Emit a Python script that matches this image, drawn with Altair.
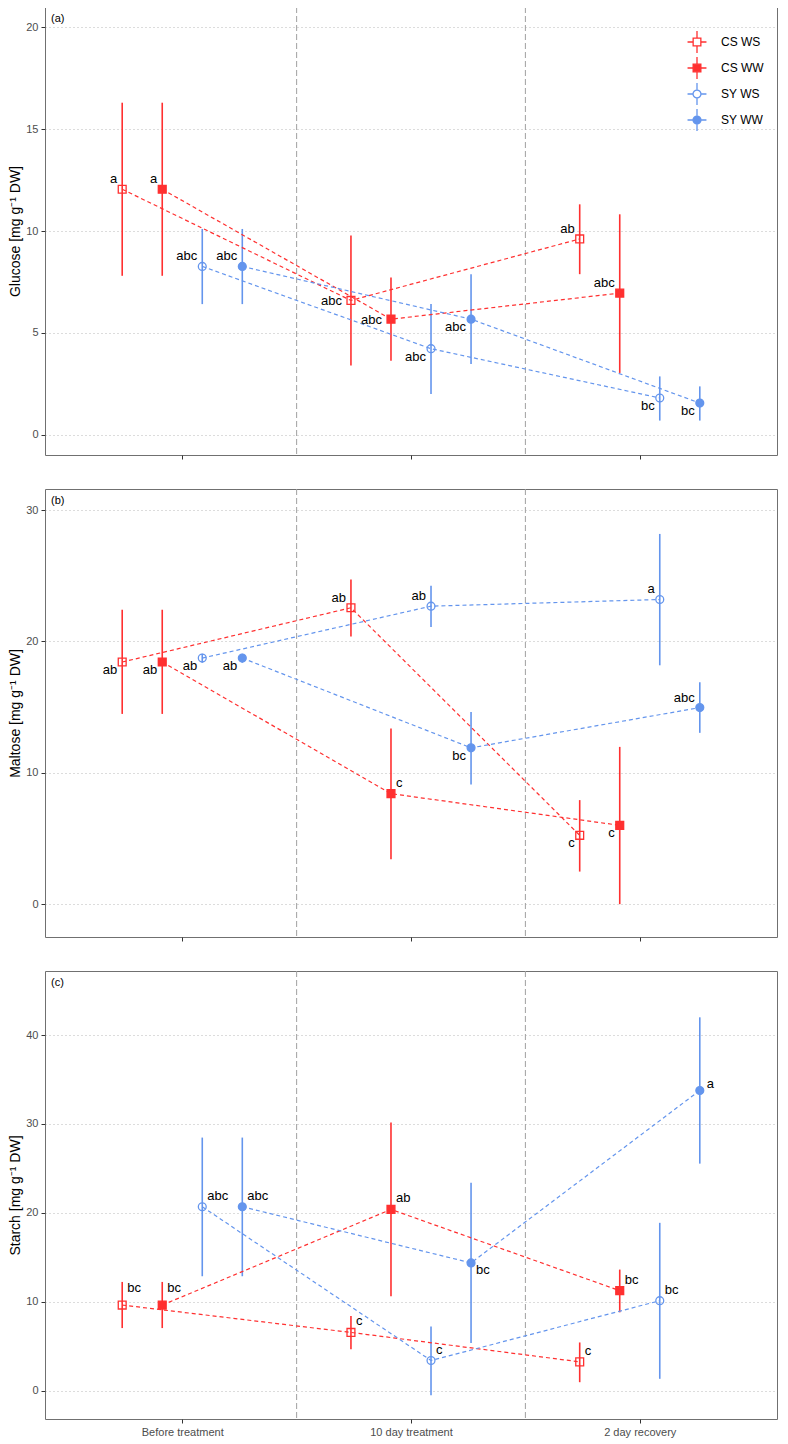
import altair as alt
import pandas as pd

times = ["Before treatment", "10 day treatment", "2 day recovery"]
series = ["CS WS", "CS WW", "SY WS", "SY WW"]

# values ordered time-major: for each time -> CS WS, CS WW, SY WS, SY WW
glucose_mean = [12.05, 12.05, 8.26, 8.26, 6.59, 5.67, 4.22, 5.67, 9.61, 6.95, 1.80, 1.55]
glucose_lo = [7.80, 7.80, 6.41, 6.41, 3.40, 3.63, 2.00, 3.47, 7.88, 3.03, 0.69, 0.69]
glucose_hi = [16.30, 16.30, 10.10, 10.10, 9.78, 7.72, 6.41, 7.87, 11.31, 10.82, 2.86, 2.37]
glucose_letters = ["a", "a", "abc", "abc", "abc", "abc", "abc", "abc", "ab", "abc", "bc", "bc"]
glucose_labelpos = ["ul", "ul", "ul", "ul", "l", "l", "ll", "ll", "ul", "ul", "ll", "ll"]

maltose_mean = [18.43, 18.43, 18.73, 18.73, 22.56, 8.41, 22.68, 11.90, 5.24, 6.00, 23.19, 14.96]
maltose_lo = [14.48, 14.48, 18.38, 18.38, 20.38, 3.42, 21.09, 9.11, 2.48, 0.00, 18.18, 13.04]
maltose_hi = [22.41, 22.41, 19.06, 19.06, 24.71, 13.37, 24.23, 14.63, 7.92, 11.97, 28.18, 16.89]
maltose_letters = ["ab", "ab", "ab", "ab", "ab", "c", "ab", "bc", "c", "c", "a", "abc"]
maltose_labelpos = ["ll", "ll", "ll", "ll", "ul", "ur", "ul", "ll", "ll", "ll", "ul", "ul"]

starch_mean = [9.62, 9.62, 20.68, 20.68, 6.54, 20.38, 3.38, 14.36, 3.23, 11.24, 10.11, 33.76]
starch_lo = [7.03, 7.03, 12.86, 12.86, 4.66, 10.60, -0.53, 5.34, 0.94, 8.80, 1.32, 25.53]
starch_hi = [12.22, 12.22, 28.46, 28.46, 8.38, 30.15, 7.22, 23.38, 5.41, 13.61, 18.87, 41.99]
starch_letters = ["bc", "bc", "abc", "abc", "c", "ab", "c", "bc", "c", "bc", "bc", "a"]
starch_labelpos = ["ur2", "ur2", "ur", "ur", "ur", "ur", "ur", "lr", "ur", "ur", "ur", "r"]

RED = "#FF3030"
BLUE = "#6495ED"
series_colors = [RED, RED, BLUE, BLUE]
series_fills = ["transparent", RED, "transparent", BLUE]
series_shapes = ["square", "square", "circle", "circle"]
SQ = "M-0.35,-0.35H0.35V0.35H-0.35Z M0,-1V-0.35 M0,0.35V1 M-0.86,0H-0.35 M0.35,0H0.86"
CI = "M0.36,0A0.36,0.36 0 1,1 -0.36,0A0.36,0.36 0 1,1 0.36,0Z M0,-1V-0.36 M0,0.36V1 M-0.86,0H-0.36 M0.36,0H0.86"
legend_paths = [SQ, SQ, CI, CI]

label_styles = {
    "ul": dict(align="right", dx=-5, dy=-10),
    "l": dict(align="right", dx=-9, dy=1),
    "ll": dict(align="right", dx=-5, dy=8),
    "ur": dict(align="left", dx=5, dy=-11),
    "ur2": dict(align="left", dx=5, dy=-17),
    "lr": dict(align="left", dx=5, dy=7),
    "r": dict(align="left", dx=7, dy=-6),
}

FONT = "Liberation Sans"
W, H = 732, 448
DODGE = 0.175


def make_legend():
    return alt.Legend(title=None, orient="none", legendX=640, legendY=23,
                      padding=0, symbolSize=484, symbolStrokeWidth=1.3, symbolOpacity=1,
                      labelFontSize=12, labelFont=FONT, labelColor="black",
                      labelOffset=12, rowPadding=-6)


def panel(mean, lo, hi, letters, labelpos, ytitle, tag, ydomain, yticks,
          show_x_labels, show_legend):
    df = pd.DataFrame({
        "time": [t for t in times for _ in series],
        "series": series * len(times),
        "mean": mean, "lo": lo, "hi": hi,
        "letter": letters, "pos": labelpos,
    })
    times_js = "[" + ",".join("'" + t + "'" for t in times) + "]"
    series_js = "[" + ",".join("'" + s + "'" for s in series) + "]"
    base = alt.Chart(df).transform_calculate(
        xpos=f"indexof({times_js}, datum.time) + 1 + (indexof({series_js}, datum.series) - 1.5) * {DODGE}"
    )
    label_expr = times_js + "[datum.value - 1]" if show_x_labels else "''"
    x = alt.X(
        "xpos:Q",
        scale=alt.Scale(domain=[0.4, len(times) + 0.6], nice=False, zero=False),
        axis=alt.Axis(values=list(range(1, len(times) + 1)), labelExpr=label_expr,
                      grid=False, title=None, domain=False, labels=show_x_labels),
    )
    y = alt.Y(
        "mean:Q",
        scale=alt.Scale(domain=ydomain, nice=False, zero=False),
        axis=alt.Axis(values=yticks, title=ytitle, grid=True, domain=False),
    )
    color = alt.Color("series:N", scale=alt.Scale(domain=series, range=series_colors), legend=None)

    bounds = pd.DataFrame({"b": [i + 0.5 for i in range(1, len(times))]})
    vlines = alt.Chart(bounds).mark_rule(
        strokeDash=[6, 3], color="#a0a0a0", strokeWidth=1
    ).encode(x=alt.X("b:Q"))

    err = base.mark_rule(strokeWidth=1.6).encode(
        x=x, y=alt.Y("lo:Q"), y2=alt.Y2("hi:Q"), color=color
    )
    lines = base.mark_line(strokeDash=[4, 3], strokeWidth=1.2).encode(
        x=x, y=y, color=color, detail="series:N"
    )
    pts = base.mark_point(filled=True, size=62, strokeWidth=1.3, opacity=1).encode(
        x=x, y=y,
        shape=alt.Shape("series:N", scale=alt.Scale(domain=series, range=series_shapes), legend=None),
        stroke=alt.Stroke("series:N", scale=alt.Scale(domain=series, range=series_colors), legend=None),
        fill=alt.Fill("series:N", scale=alt.Scale(domain=series, range=series_fills), legend=None),
    )
    texts = []
    for code, st in label_styles.items():
        texts.append(
            base.transform_filter(alt.datum.pos == code).mark_text(
                baseline="middle", fontSize=13, font=FONT, color="black", **st
            ).encode(x=x, y=y, text="letter:N")
        )
    tagc = alt.Chart(pd.DataFrame({"t": [tag]})).mark_text(
        align="left", baseline="middle", fontSize=11, font=FONT, color="black"
    ).encode(x=alt.value(6), y=alt.value(12), text="t:N")

    layers = [vlines, err, lines, pts] + texts + [tagc]
    if show_legend:
        leg = base.transform_filter("false").mark_point(filled=True, size=484, opacity=1).encode(
            x=x, y=y,
            shape=alt.Shape("series:N", scale=alt.Scale(domain=series, range=legend_paths),
                            legend=make_legend()),
            stroke=alt.Stroke("series:N", scale=alt.Scale(domain=series, range=series_colors),
                              legend=make_legend()),
            fill=alt.Fill("series:N", scale=alt.Scale(domain=series, range=series_fills),
                          legend=make_legend()),
        )
        layers.append(leg)
    ch = alt.layer(*layers).properties(width=W, height=H)
    if show_legend:
        ch = ch.resolve_scale(shape="independent", stroke="independent", fill="independent")
    return ch


pa = panel(glucose_mean, glucose_lo, glucose_hi, glucose_letters, glucose_labelpos,
           "Glucose [mg g⁻¹ DW]", "(a)", [-1.0, 21.0], [0, 5, 10, 15, 20], False, True)
pb = panel(maltose_mean, maltose_lo, maltose_hi, maltose_letters, maltose_labelpos,
           "Maltose [mg g⁻¹ DW]", "(b)", [-2.5, 31.6], [0, 10, 20, 30], False, False)
pc = panel(starch_mean, starch_lo, starch_hi, starch_letters, starch_labelpos,
           "Starch [mg g⁻¹ DW]", "(c)", [-3.2, 47.2], [0, 10, 20, 30, 40], True, False)

chart = alt.vconcat(
    pa, pb, pc, spacing=28,
    padding={"left": 0, "top": -2, "right": 0, "bottom": 0},
    background="white",
).configure_view(
    stroke="#707070", strokeWidth=1
).configure_axis(
    labelFont=FONT, labelFontSize=11, labelColor="#4d4d4d",
    titleFont=FONT, titleFontSize=14, titleFontWeight="normal", titleColor="black",
    tickColor="#333333", tickSize=4, labelPadding=3, titlePadding=3,
    gridColor="#b8b8b8", gridDash=[1, 3], gridWidth=1,
)

chart.save("out.html", embed_options={"renderer": "svg", "actions": False})
